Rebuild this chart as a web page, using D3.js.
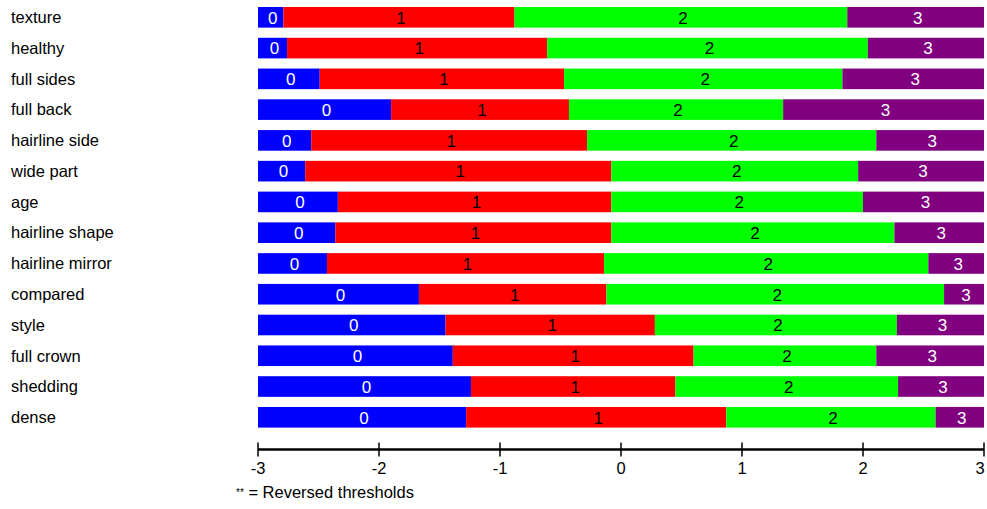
<!DOCTYPE html>
<html>
<head>
<meta charset="utf-8">
<script src="https://cdn.jsdelivr.net/npm/d3@7"></script>
<style>
body { margin: 0; background: #fff; }
</style>
</head>
<body>
<script>
// items, top to bottom
var items = ["texture", "healthy", "full sides", "full back", "hairline side", "wide part", "age",
  "hairline shape", "hairline mirror", "compared", "style", "full crown", "shedding", "dense"];
// thresholds between categories 0|1, 1|2, 2|3
var t1 = [-2.79, -2.76, -2.49, -1.90, -2.56, -2.61, -2.34, -2.36, -2.43, -1.67, -1.45, -1.39, -1.24, -1.28];
var t2 = [-0.88, -0.61, -0.47, -0.43, -0.28, -0.08, -0.08, -0.08, -0.14, -0.12, 0.28, 0.60, 0.45, 0.87];
var t3 = [1.87, 2.04, 1.83, 1.34, 2.11, 1.96, 2.00, 2.26, 2.54, 2.67, 2.28, 2.11, 2.29, 2.60];
var cats = ["0", "1", "2", "3"];
var ticks = [-3, -2, -1, 0, 1, 2, 3];

var width = 987, height = 509;
var fill = ["#0000ff", "#ff0000", "#00ff00", "#800080"];
var ink = ["#ffffff", "#000000", "#000000", "#ffffff"];
var font = "Liberation Sans, Arial, sans-serif";

var svg = d3.select("body").append("svg")
  .attr("width", width)
  .attr("height", height);

var x = d3.scaleLinear().domain([-3, 3]).range([258, 984]);
var y = d3.scaleBand().domain(items).range([7, 427.6]).paddingInner(0.33).paddingOuter(0);

// build segments per item
var segs = [];
items.forEach(function(d, i) {
  var b = [-3, t1[i], t2[i], t3[i], 3];
  for (var k = 0; k < 4; k++) segs.push({item: d, k: k, a: b[k], b: b[k + 1]});
});

svg.append("g").selectAll("text")
  .data(items).enter().append("text")
  .attr("x", 11)
  .attr("y", function(d) { return y(d) + y.bandwidth() / 2; })
  .attr("dy", "0.35em")
  .attr("font-family", font)
  .attr("font-size", 16.5)
  .attr("fill", "#000")
  .text(function(d) { return d; });

svg.append("g").selectAll("rect")
  .data(segs).enter().append("rect")
  .attr("x", function(d) { return x(d.a); })
  .attr("y", function(d) { return y(d.item); })
  .attr("width", function(d) { return x(d.b) - x(d.a); })
  .attr("height", y.bandwidth())
  .attr("fill", function(d) { return fill[d.k]; });

svg.append("g").selectAll("text")
  .data(segs).enter().append("text")
  .attr("x", function(d) { return (x(d.a) + x(d.b)) / 2 + 2; })
  .attr("y", function(d) { return y(d.item) + y.bandwidth() / 2; })
  .attr("dy", "0.37em")
  .attr("text-anchor", "middle")
  .attr("font-family", font)
  .attr("font-size", 17)
  .attr("fill", function(d) { return ink[d.k]; })
  .text(function(d) { return cats[d.k]; });

// axis
var ax = svg.append("g").attr("transform", "translate(0,449.5)");
ax.append("line")
  .attr("x1", x(-3)).attr("x2", x(3))
  .attr("stroke", "#000").attr("stroke-width", 2.5);
ax.selectAll("line.tk")
  .data(ticks).enter().append("line")
  .attr("class", "tk")
  .attr("x1", function(d) { return x(d); })
  .attr("x2", function(d) { return x(d); })
  .attr("y1", -7).attr("y2", 7)
  .attr("stroke", "#000").attr("stroke-width", 1.5);
ax.selectAll("text")
  .data(ticks).enter().append("text")
  .attr("x", function(d) { return Math.min(x(d), width - 7); })
  .attr("y", 19)
  .attr("dy", "0.35em")
  .attr("text-anchor", "middle")
  .attr("font-family", font)
  .attr("font-size", 16.5)
  .text(function(d) { return d; });

var foot = svg.append("text")
  .attr("x", 236)
  .attr("y", 498)
  .attr("dy", "0.35em")
  .attr("font-family", font)
  .attr("font-size", 16.5);
foot.append("tspan").attr("font-size", 10).attr("dy", "-0.2em").text("**");
foot.append("tspan").attr("dy", "0.15em").text(" = Reversed thresholds");
</script>
</body>
</html>
